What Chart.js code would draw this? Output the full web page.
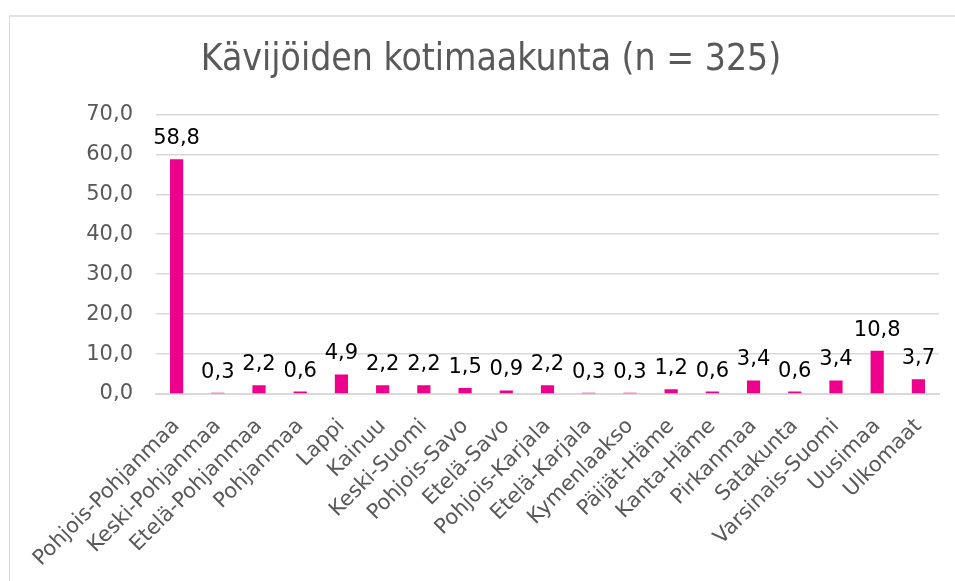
<!DOCTYPE html>
<html>
<head>
<meta charset="utf-8">
<script src="https://cdn.jsdelivr.net/npm/chart.js@4"></script>
<style>
  html, body { margin: 0; padding: 0; background: #fff; overflow: hidden; }
  #frame { position: absolute; left: 9px; top: 15px; width: 1000px; height: 700px;
           border-left: 1px solid #d9d9d9; border-top: 2px solid #e3e3e3; }
  #chart { position: absolute; left: 10px; top: 16px; }
</style>
</head>
<body>
<div id="frame"></div>
<canvas id="chart" width="962" height="600"></canvas>
<script>
var regions = ['Pohjois-Pohjanmaa', 'Keski-Pohjanmaa', 'Etelä-Pohjanmaa', 'Pohjanmaa', 'Lappi',
  'Kainuu', 'Keski-Suomi', 'Pohjois-Savo', 'Etelä-Savo', 'Pohjois-Karjala', 'Etelä-Karjala',
  'Kymenlaakso', 'Päijät-Häme', 'Kanta-Häme', 'Pirkanmaa', 'Satakunta', 'Varsinais-Suomi',
  'Uusimaa', 'Ulkomaat'];
var shares = [58.8, 0.3, 2.2, 0.6, 4.9, 2.2, 2.2, 1.5, 0.9, 2.2, 0.3, 0.3, 1.2, 0.6, 3.4, 0.6, 3.4, 10.8, 3.7];
var yTicks = [0, 10, 20, 30, 40, 50, 60, 70];

function fi(v) { return v.toFixed(1).replace('.', ','); }

// value labels above the bars
var barLabels = {
  id: 'barLabels',
  afterDatasetsDraw: function(chart) {
    var ctx = chart.ctx;
    var meta = chart.getDatasetMeta(0);
    ctx.save();
    ctx.font = '21px "DejaVu Sans"';
    ctx.fillStyle = '#000';
    ctx.textAlign = 'center';
    ctx.textBaseline = 'alphabetic';
    meta.data.forEach(function(bar, i) {
      ctx.fillText(fi(shares[i]), bar.x, bar.y - 15);
    });
    ctx.restore();
  }
};

var ctx = document.getElementById('chart').getContext('2d');
var myChart = new Chart(ctx, {
  type: 'bar',
  data: {
    labels: regions,
    datasets: [{
      data: shares,
      backgroundColor: '#EC008C',
      categoryPercentage: 1,
      barPercentage: 0.32
    }]
  },
  options: {
    responsive: false,
    animation: false,
    devicePixelRatio: 1,
    layout: { padding: { left: 33, right: 33, top: 0, bottom: 0 } },
    plugins: {
      legend: { display: false },
      tooltip: { enabled: false },
      title: {
        display: true,
        text: 'Kävijöiden kotimaakunta (n = 325)',
        color: '#595959',
        font: { family: 'DejaVu Sans Condensed', size: 37, weight: 'normal' },
        padding: { top: 22, bottom: 32 }
      }
    },
    scales: {
      y: {
        min: 0,
        max: 70,
        afterBuildTicks: function(axis) {
          axis.ticks = yTicks.map(function(v) { return { value: v }; });
        },
        afterFit: function(axis) { axis.width = 113; },
        grid: { color: '#d9d9d9', lineWidth: 1.5, drawTicks: false },
        border: { display: false },
        ticks: {
          color: '#595959',
          padding: 23,
          font: { family: 'DejaVu Sans', size: 21 },
          callback: function(v) { return fi(v); }
        }
      },
      x: {
        afterFit: function(axis) { axis.height = 222; },
        grid: { display: false, drawTicks: false },
        border: { display: true, color: '#d9d9d9', width: 2 },
        ticks: {
          color: '#595959',
          autoSkip: false,
          maxRotation: 45,
          minRotation: 45,
          padding: 20,
          font: { family: 'DejaVu Sans', size: 21 }
        }
      }
    }
  },
  plugins: [barLabels]
});
</script>
</body>
</html>
